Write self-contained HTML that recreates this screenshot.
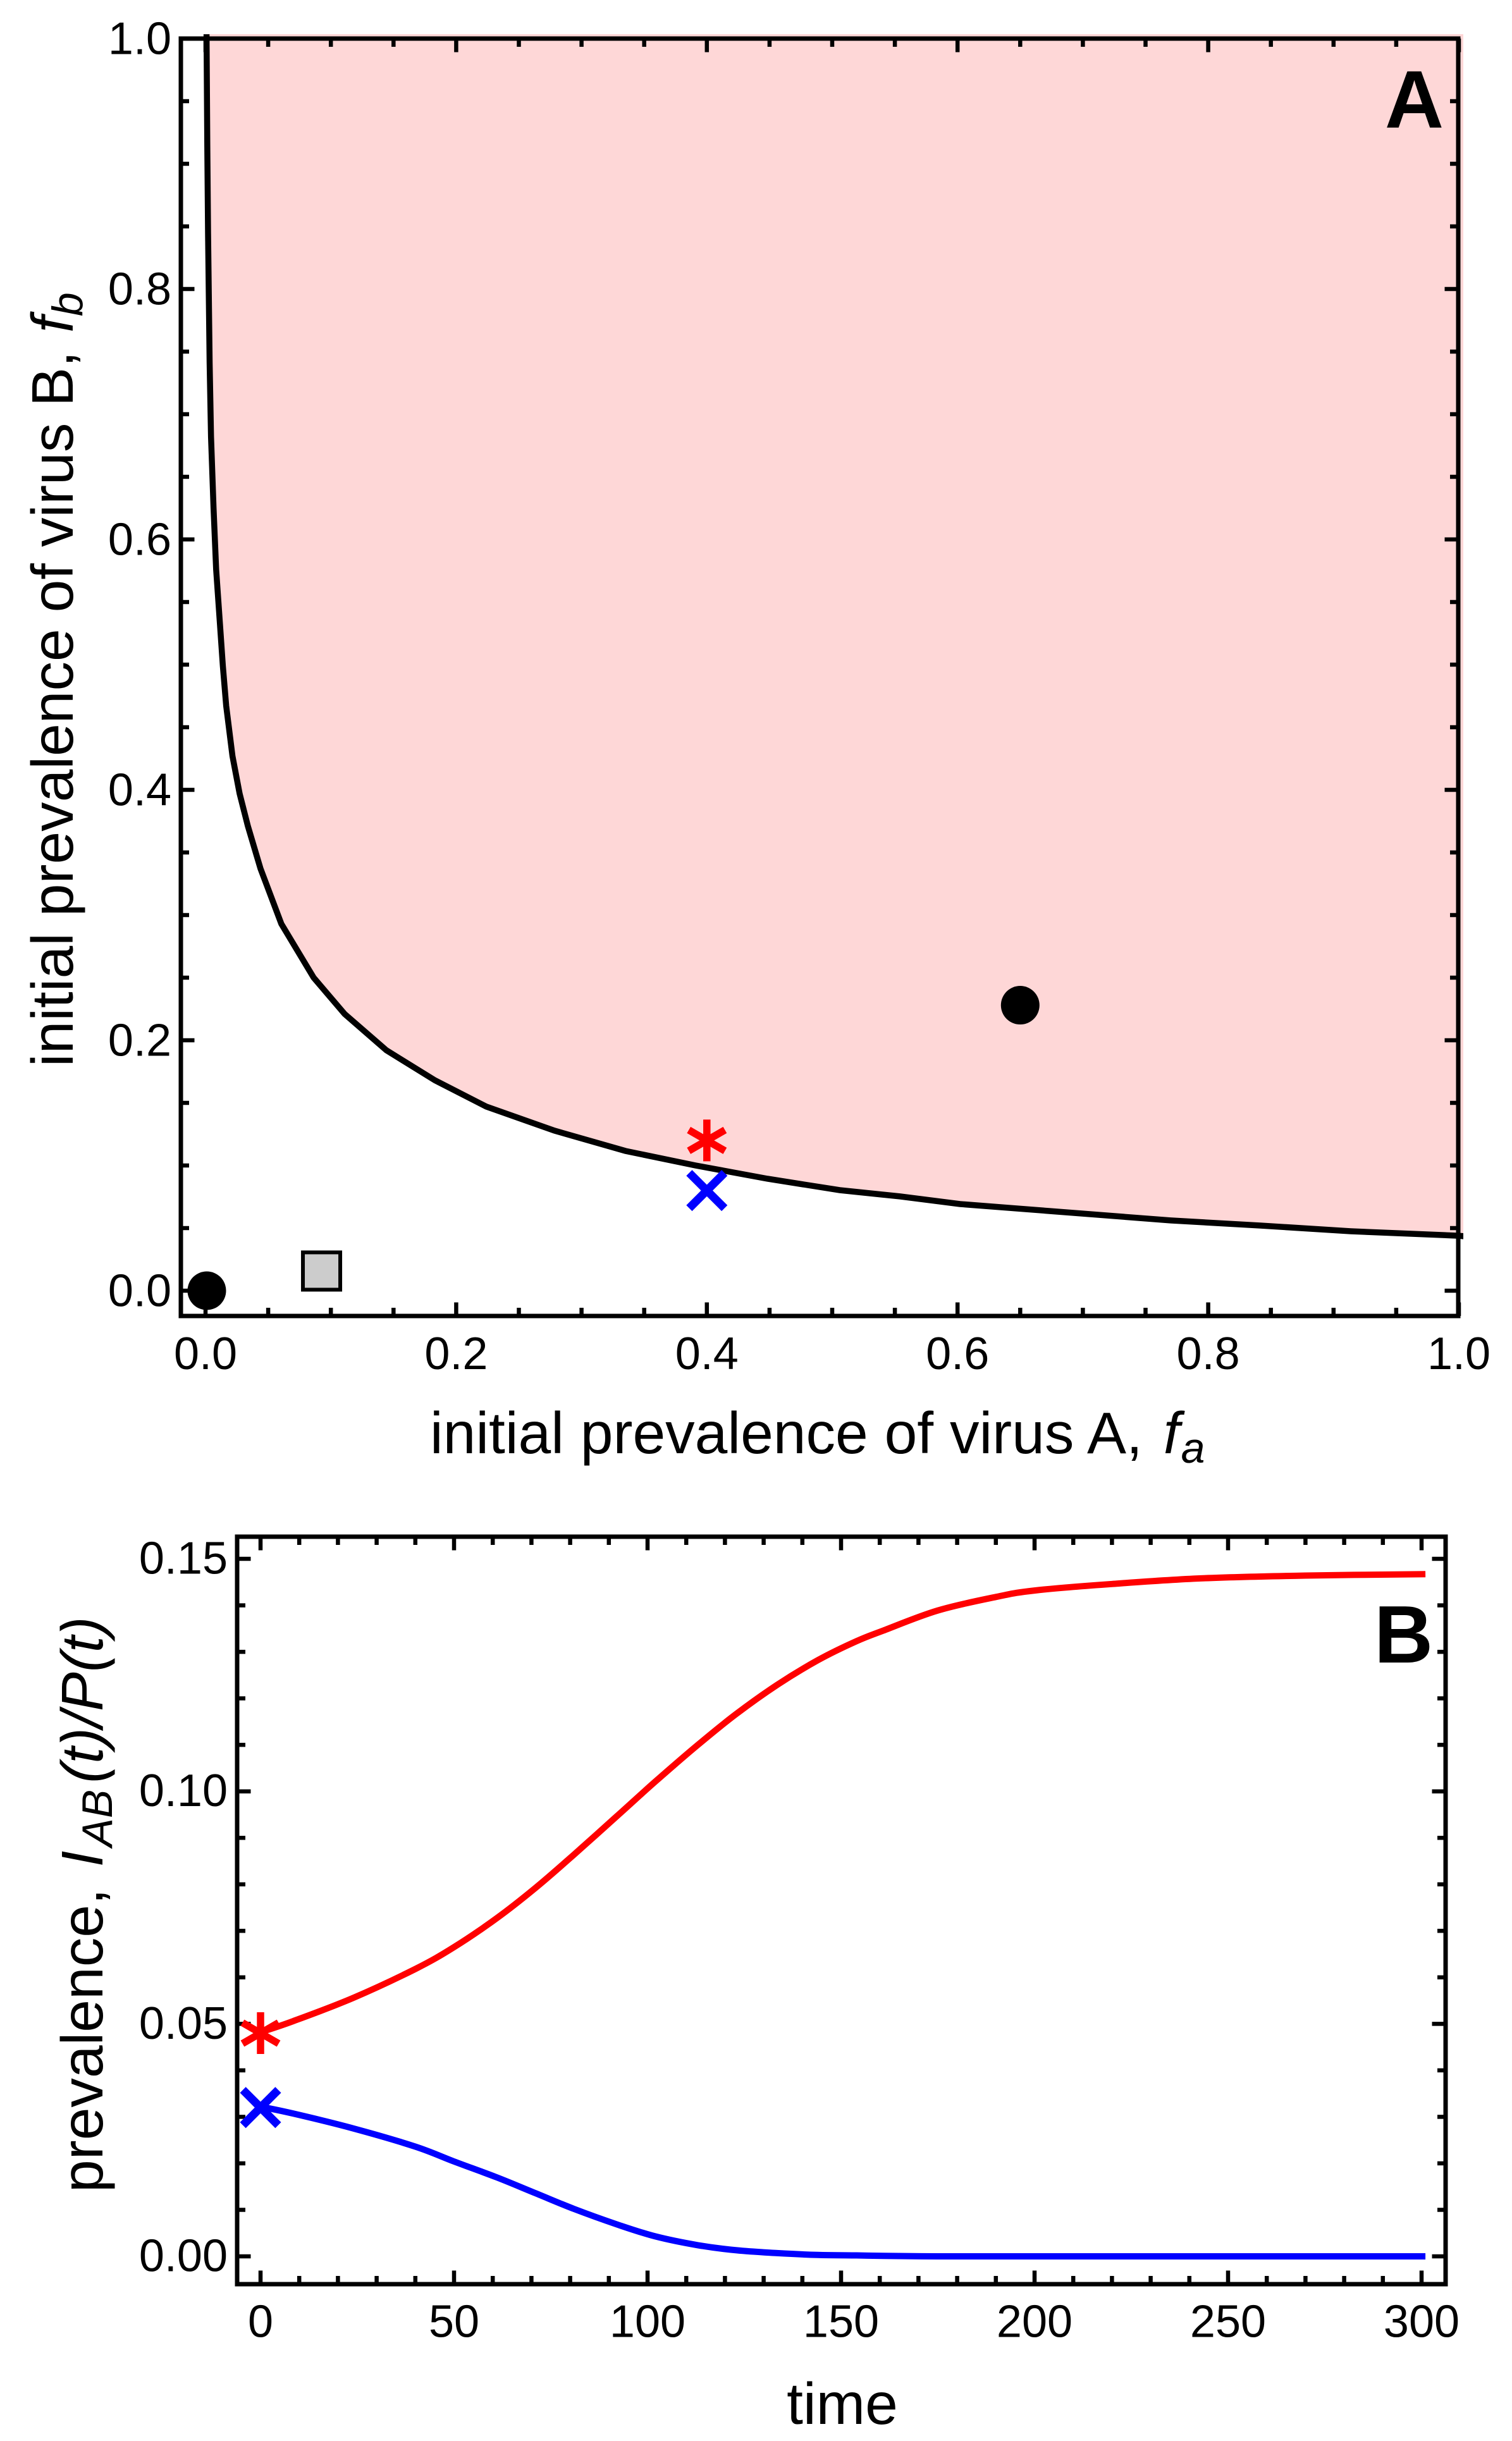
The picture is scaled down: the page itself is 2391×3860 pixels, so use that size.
<!DOCTYPE html>
<html lang="en">
<head>
<meta charset="utf-8">
<title>Virus prevalence charts</title>
<style>
html,body{margin:0;padding:0;background:#fff;}
svg{display:block;}
text{font-family:"Liberation Sans",sans-serif;fill:#000;}
.tick{font-size:72px;}
.title{font-size:93px;}
.letter{font-size:129px;font-weight:bold;}
.it{font-style:italic;}
.sub{font-size:68px;font-style:italic;}
</style>
</head>
<body>
<svg id="chart" xmlns="http://www.w3.org/2000/svg" width="2391" height="3860" viewBox="0 0 2391 3860">
  <defs>
    <clipPath id="clipA"><rect x="200" y="54" width="2114" height="2040"/></clipPath>
  </defs>
  <g id="panelA">
    <path id="regionA" fill="#fed7d7" clip-path="url(#clipA)"/>
    <rect x="286" y="61" width="2020" height="2020" fill="none" stroke="#000" stroke-width="7"/>
    <g id="ticksA"></g>
    <path id="frontierA" fill="none" stroke="#000" stroke-width="9.5" clip-path="url(#clipA)"/>
    <g id="marksA"></g>
    <text class="title" x="680" y="2298">initial prevalence of virus A, <tspan class="it" dx="7">f</tspan><tspan class="sub" dx="2" dy="15">a</tspan></text>
    <text class="title" transform="translate(115 1687) rotate(-90)">initial prevalence of virus B, <tspan class="it" dx="3">f</tspan><tspan class="sub" dy="15">b</tspan></text>
    <text class="letter" x="2236.5" y="201.7" text-anchor="middle">A</text>
  </g>
  <g id="panelB">
    <rect x="375" y="2430" width="1911" height="1182" fill="none" stroke="#000" stroke-width="7"/>
    <g id="ticksB"></g>
    <path id="lineRed" fill="none" stroke="#f00" stroke-width="10"/>
    <path id="lineBlue" fill="none" stroke="#00f" stroke-width="10"/>
    <g id="marksB"></g>
    <text class="title" x="1332" y="3833" text-anchor="middle">time</text>
    <text class="title" transform="translate(162 3467) rotate(-90)">prevalence, <tspan class="it" dx="8">I</tspan><tspan class="sub" dx="6" dy="15">AB</tspan><tspan class="it" dx="10" dy="-15">(t)/P(t)</tspan></text>
    <text class="letter" x="2173" y="2629">B</text>
  </g>
</svg>
<script>
// Panel A data
const frontierFa = [0.0008,0.0014,0.002,0.0033,0.0044,0.0064,0.0085,0.0114,0.0138,0.0165,0.0215,0.0272,0.0338,0.0439,0.0605,0.0863,0.111,0.1443,0.1831,0.224,0.2785,0.335,0.391,0.4484,0.506,0.554,0.602,0.674,0.77,0.8417,0.9137,1.0,1.004];
const frontierFb = [1.0035,0.9146,0.845,0.741,0.682,0.625,0.576,0.534,0.499,0.467,0.427,0.397,0.371,0.337,0.293,0.25,0.221,0.192,0.168,0.147,0.1278,0.1116,0.1,0.0894,0.0803,0.0753,0.0692,0.0636,0.0561,0.052,0.0475,0.0439,0.0435];
const tickLabelsA = ["0.0","0.2","0.4","0.6","0.8","1.0"];
const circleFa = [0.001,0.65];
const circleFb = [0,0.228];
const squareFa = [0.0926];
const squareFb = [0.0157];
const starFa = [0.4];
const starFb = [0.12];
const crossFa = [0.4];
const crossFb = [0.08];

// Panel B data
const timePoints = [0,8.5,24,40,50,61,71,81,92,102,113,123,133.5,144,154,161,175,190,200,220,243,270,301];
const redValues = [0.0482,0.0506,0.0556,0.0618,0.0665,0.0727,0.0792,0.0864,0.0946,0.1021,0.11,0.1167,0.1229,0.1282,0.1323,0.1346,0.1389,0.1418,0.1432,0.1446,0.1458,0.1464,0.1467];
const blueValues = [0.0322,0.0307,0.0275,0.0236,0.0204,0.017,0.0136,0.0102,0.0069,0.0043,0.0024,0.0013,0.0007,0.0003,0.0002,0.0001,0,0,0,0,0,0,0];
const xTickLabelsB = ["0","50","100","150","200","250","300"];
const yTickLabelsB = ["0.00","0.05","0.10","0.15"];
const markerTimeB = [0];
const markerRedB = [0.048];
const markerBlueB = [0.032];

// Axis functions
const xA = v => 325 + v * 1982;
const yA = v => 2041 - v * 1980;
const xB = t => 412 + t * 6.12;
const yB = v => 3568 - v * 7353;

const NS = "http://www.w3.org/2000/svg";
function make(parent, tag, attrs) {
  const el = document.createElementNS(NS, tag);
  for (const k in attrs) el.setAttribute(k, attrs[k]);
  parent.appendChild(el);
  return el;
}
function tickLine(parent, x1, y1, x2, y2, name) {
  const el = make(parent, "line", {x1: x1, y1: y1, x2: x2, y2: y2, stroke: "#000", "stroke-width": 6.5});
  
  
}
function label(parent, x, y, anchor, str, name) {
  const el = make(parent, "text", {x: x, y: y, "text-anchor": anchor, "class": "tick"});
  el.textContent = str;
  
  
}
function star(parent, cx, cy, name) {
  const g = make(parent, "g", {});
  
  
  [90, 30, -30].forEach(a => {
    const r = 33, c = Math.cos(a * Math.PI / 180), s = Math.sin(a * Math.PI / 180);
    make(g, "line", {x1: cx - r * c, y1: cy - r * s, x2: cx + r * c, y2: cy + r * s, stroke: "#f00", "stroke-width": 11.5});
  });
}
function cross(parent, cx, cy, name) {
  const g = make(parent, "g", {});
  
  
  [45, -45].forEach(a => {
    const r = 39.5, c = Math.cos(a * Math.PI / 180), s = Math.sin(a * Math.PI / 180);
    make(g, "line", {x1: cx - r * c, y1: cy - r * s, x2: cx + r * c, y2: cy + r * s, stroke: "#00f", "stroke-width": 13});
  });
}
function spline(px, py) {
  let d = "M" + px[0].toFixed(1) + " " + py[0].toFixed(1);
  for (let i = 0; i < px.length - 1; i++) {
    const a = Math.max(i - 1, 0), b = Math.min(i + 2, px.length - 1);
    const c1x = px[i] + (px[i + 1] - px[a]) / 6, c1y = py[i] + (py[i + 1] - py[a]) / 6;
    const c2x = px[i + 1] - (px[b] - px[i]) / 6, c2y = py[i + 1] - (py[b] - py[i]) / 6;
    d += "C" + c1x.toFixed(1) + " " + c1y.toFixed(1) + " " + c2x.toFixed(1) + " " + c2y.toFixed(1) + " " + px[i + 1].toFixed(1) + " " + py[i + 1].toFixed(1);
  }
  return d;
}

// ---- Panel A ----
const linePts = frontierFa.map((f, i) => xA(f).toFixed(1) + " " + yA(frontierFb[i]).toFixed(1));
document.getElementById("frontierA").setAttribute("d", "M" + linePts.join("L"));
document.getElementById("regionA").setAttribute("d", "M" + linePts.join("L") + "L2314 54L" + xA(frontierFa[0]).toFixed(1) + " 54Z");

const ticksA = document.getElementById("ticksA");
for (let i = 0; i <= 20; i++) {
  const v = i * 0.05, major = i % 4 === 0, len = major ? 21.5 : 13;
  const x = xA(v), y = yA(v);
  tickLine(ticksA, x, 2081, x, 2081 - len, "x-tick-bottom-a");
  tickLine(ticksA, x, 61, x, 61 + len, "x-tick-top-a");
  tickLine(ticksA, 286, y, 286 + len, y, "y-tick-left-a");
  tickLine(ticksA, 2306, y, 2306 - len, y, "y-tick-right-a");
}
tickLabelsA.forEach(s => {
  const v = parseFloat(s);
  label(ticksA, xA(v), 2165, "middle", s, "x-tick-label-a");
  label(ticksA, 271, yA(v) + 24.5, "end", s, "y-tick-label-a");
});
const marksA = document.getElementById("marksA");
circleFa.forEach((f, i) => {
  const el = make(marksA, "circle", {cx: xA(f), cy: yA(circleFb[i]), r: 30.5, fill: "#000"});
  
  
});
squareFa.forEach((f, i) => {
  const el = make(marksA, "rect", {x: xA(f) - 29.5, y: yA(squareFb[i]) - 29.5, width: 59, height: 59, fill: "#ccc", stroke: "#000", "stroke-width": 6});
  
  
});
starFa.forEach((f, i) => star(marksA, xA(f), yA(starFb[i]), "red-asterisk-marker-a"));
crossFa.forEach((f, i) => cross(marksA, xA(f), yA(crossFb[i]), "blue-cross-marker-a"));

// ---- Panel B ----
const pxB = timePoints.map(xB);
document.getElementById("lineRed").setAttribute("d", spline(pxB, redValues.map(yB)));
document.getElementById("lineBlue").setAttribute("d", spline(pxB, blueValues.map(yB)));

const ticksB = document.getElementById("ticksB");
for (let i = 0; i <= 30; i++) {
  const t = i * 10, major = i % 5 === 0, len = major ? 21.5 : 13, x = xB(t);
  tickLine(ticksB, x, 3612, x, 3612 - len, "x-tick-bottom-b");
  tickLine(ticksB, x, 2430, x, 2430 + len, "x-tick-top-b");
}
for (let i = 0; i <= 15; i++) {
  const v = i * 0.01, major = i % 5 === 0, len = major ? 21.5 : 13, y = yB(v);
  tickLine(ticksB, 375, y, 375 + len, y, "y-tick-left-b");
  tickLine(ticksB, 2286, y, 2286 - len, y, "y-tick-right-b");
}
xTickLabelsB.forEach(s => label(ticksB, xB(parseFloat(s)), 3695.5, "middle", s, "x-tick-label-b"));
yTickLabelsB.forEach(s => label(ticksB, 360, yB(parseFloat(s)) + 23.5, "end", s, "y-tick-label-b"));

const marksB = document.getElementById("marksB");
markerTimeB.forEach((t, i) => {
  star(marksB, xB(t), yB(markerRedB[i]), "red-asterisk-marker-b");
  cross(marksB, xB(t), yB(markerBlueB[i]), "blue-cross-marker-b");
});
</script>
</body>
</html>
